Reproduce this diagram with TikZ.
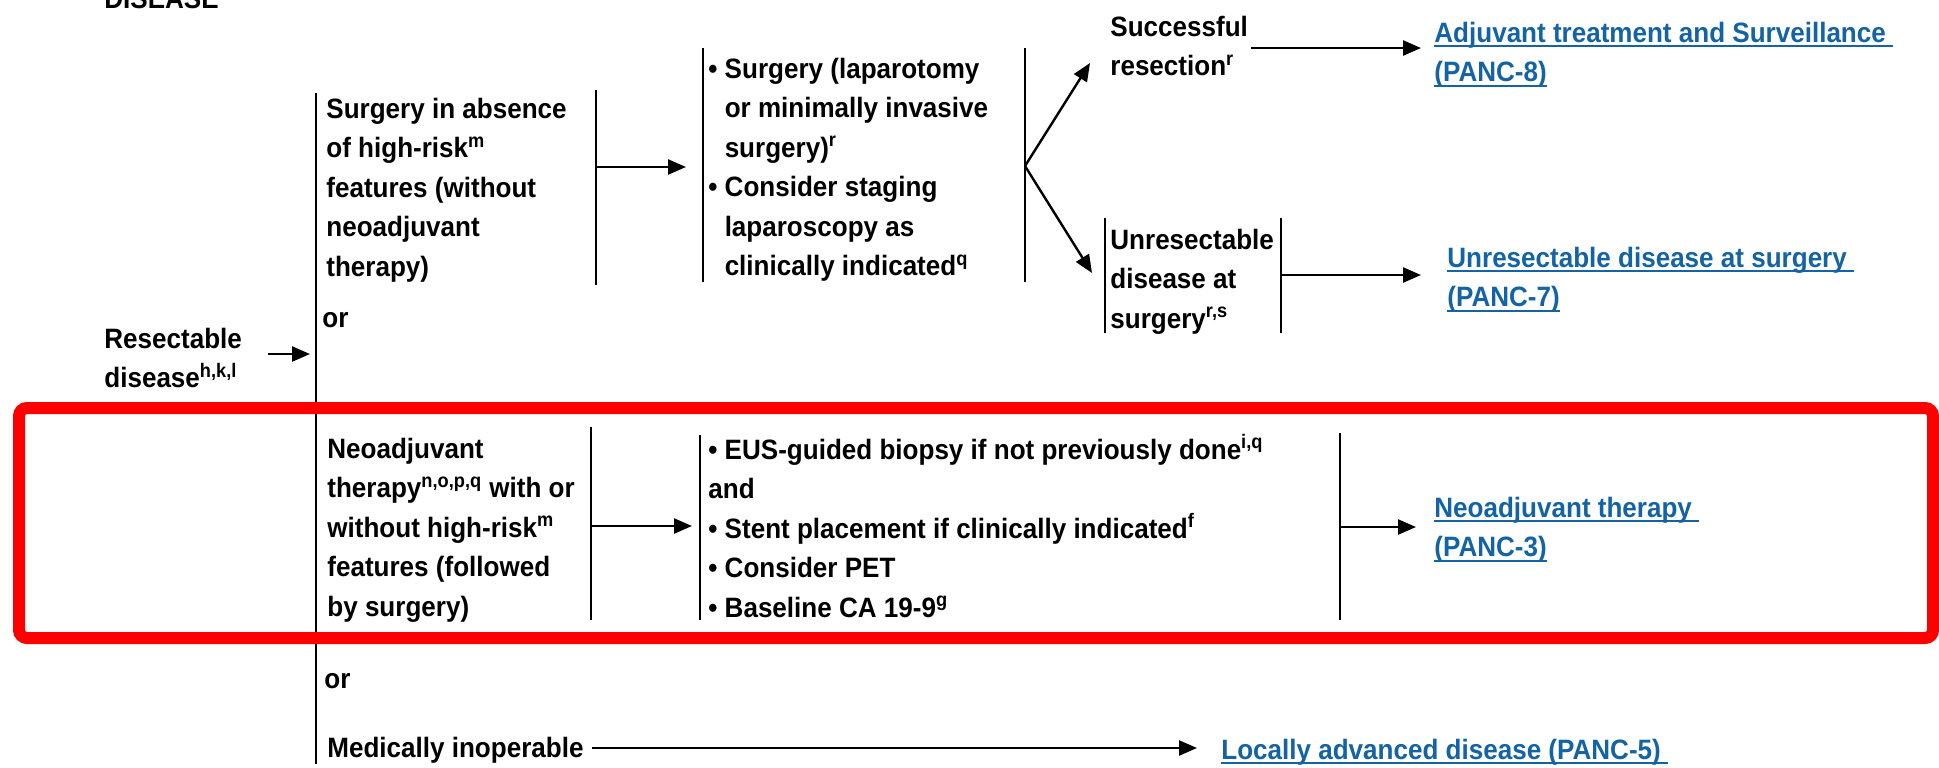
\documentclass[tikz,border=0pt]{standalone}
\usepackage{fontspec}
\setmainfont{Liberation Sans}[FakeStretch=0.93]
\usetikzlibrary{arrows.meta}
\definecolor{linkblue}{RGB}{20,100,165}
\definecolor{hired}{RGB}{255,0,0}
\newsavebox\ulbox
\newcommand\ulk[1]{\sbox\ulbox{#1}\rlap{\color{linkblue}\rule[-2.6pt]{\wd\ulbox}{1pt}}\usebox\ulbox}
\newcommand\lns[1]{\begin{tabular}[t]{@{}l@{}}#1\end{tabular}}
\newcommand\sps[1]{\textsuperscript{#1}}
\newcommand\bul{\textbullet\ }
\newcommand\ind{\phantom{\textbullet\ }}
\tikzset{
  txt/.style={font=\fontsize{14}{19.75}\selectfont\bfseries, inner sep=0pt, anchor=base west},
  lnk/.style={txt, text=linkblue},
  arr/.style={-{Triangle[length=9pt,width=7.5pt]}, line width=1.2pt},
  bar/.style={line width=1pt},
}
\begin{document}
\begin{tikzpicture}[x=0.5pt,y=-0.5pt]
\useasboundingbox (0,0) rectangle (1939,767);
\clip (0,0) rectangle (1939,767);
\fill[white] (0,0) rectangle (1939,767);
% texts
\node[txt] (dis) at (104,8) {DISEASE};
\node[txt] (res) at (104,348) {\lns{Resectable\\disease\sps{h,k,l}}};
\node[txt] (s1) at (326,118) {\lns{Surgery in absence\\of high-risk\sps{m}\\features (without\\neoadjuvant\\therapy)}};
\node[txt] (or1) at (322,327) {or};
\node[txt] (b1) at (708,78) {\lns{\bul Surgery (laparotomy\\\ind or minimally invasive\\\ind surgery)\sps{r}\\\bul Consider staging\\\ind laparoscopy as\\\ind clinically indicated\sps{q}}};
\node[txt] (succ) at (1110,36) {\lns{Successful\\resection\sps{r}}};
\node[txt] (unr) at (1110,249) {\lns{Unresectable\\disease at\\surgery\sps{r,s}}};
\node[lnk] (adj) at (1434,42) {\lns{\ulk{Adjuvant treatment and Surveillance\ }\\\ulk{(PANC-8)}}};
\node[lnk] (unrl) at (1447,267) {\lns{\ulk{Unresectable disease at surgery\ }\\\ulk{(PANC-7)}}};
\node[txt] (neo) at (327,458) {\lns{Neoadjuvant\\therapy\sps{n,o,p,q} with or\\without high-risk\sps{m}\\features (followed\\by surgery)}};
\node[txt] (b2) at (708,459) {\lns{\bul EUS-guided biopsy if not previously done\sps{i,q}\\and\\\bul Stent placement if clinically indicated\sps{f}\\\bul Consider PET\\\bul Baseline CA 19-9\sps{g}}};
\node[lnk] (neol) at (1434,517) {\lns{\ulk{Neoadjuvant therapy\ }\\\ulk{(PANC-3)}}};
\node[txt] (or2) at (324,688) {or};
\node[txt] (med) at (327,757) {Medically inoperable};
\node[lnk] (loc) at (1221,759) {\ulk{Locally advanced disease (PANC-5)\ }};
% named points
\coordinate (mainT) at (316,93);   \coordinate (mainB) at (316,764);
\coordinate (s1rT) at (596,90);    \coordinate (s1rB) at (596,285);
\coordinate (b1lT) at (703,48);    \coordinate (b1lB) at (703,282);
\coordinate (b1rT) at (1025,48);   \coordinate (b1rB) at (1025,282);
\coordinate (unlT) at (1105,218);  \coordinate (unlB) at (1105,333);
\coordinate (unrT) at (1281,218);  \coordinate (unrB) at (1281,333);
\coordinate (neorT) at (591,427);  \coordinate (neorB) at (591,620);
\coordinate (b2lT) at (700,435);   \coordinate (b2lB) at (700,620);
\coordinate (b2rT) at (1340,433);  \coordinate (b2rB) at (1340,620);
\coordinate (resOut) at (268,354); \coordinate (mainIn) at (310,354);
\coordinate (s1Out) at (596,167);  \coordinate (b1In) at (686,167);
\coordinate (fork) at (1025,166);
\coordinate (succIn) at (1090,63); \coordinate (unrIn) at (1092,273);
\coordinate (succOut) at (1251,48); \coordinate (adjIn) at (1421,48);
\coordinate (unrOut) at (1281,275); \coordinate (unrlIn) at (1421,275);
\coordinate (neoOut) at (591,526); \coordinate (b2In) at (692,526);
\coordinate (b2Out) at (1340,527); \coordinate (neolIn) at (1416,527);
\coordinate (medOut) at (592,748); \coordinate (locIn) at (1197,748);
% bars
\draw[bar] (mainT) -- (mainB);
\draw[bar] (s1rT) -- (s1rB);
\draw[bar] (b1lT) -- (b1lB);
\draw[bar] (b1rT) -- (b1rB);
\draw[bar] (unlT) -- (unlB);
\draw[bar] (unrT) -- (unrB);
\draw[bar] (neorT) -- (neorB);
\draw[bar] (b2lT) -- (b2lB);
\draw[bar] (b2rT) -- (b2rB);
% arrows
\draw[arr] (resOut) -- (mainIn);
\draw[arr] (s1Out) -- (b1In);
\draw[arr] (fork) -- (succIn);
\draw[arr] (fork) -- (unrIn);
\draw[arr] (succOut) -- (adjIn);
\draw[arr] (unrOut) -- (unrlIn);
\draw[arr] (neoOut) -- (b2In);
\draw[arr] (b2Out) -- (neolIn);
\draw[arr] (medOut) -- (locIn);
% highlight
\draw[hired, line width=6pt, rounded corners=4pt] (19,408) rectangle (1933,638);
\end{tikzpicture}
\end{document}
